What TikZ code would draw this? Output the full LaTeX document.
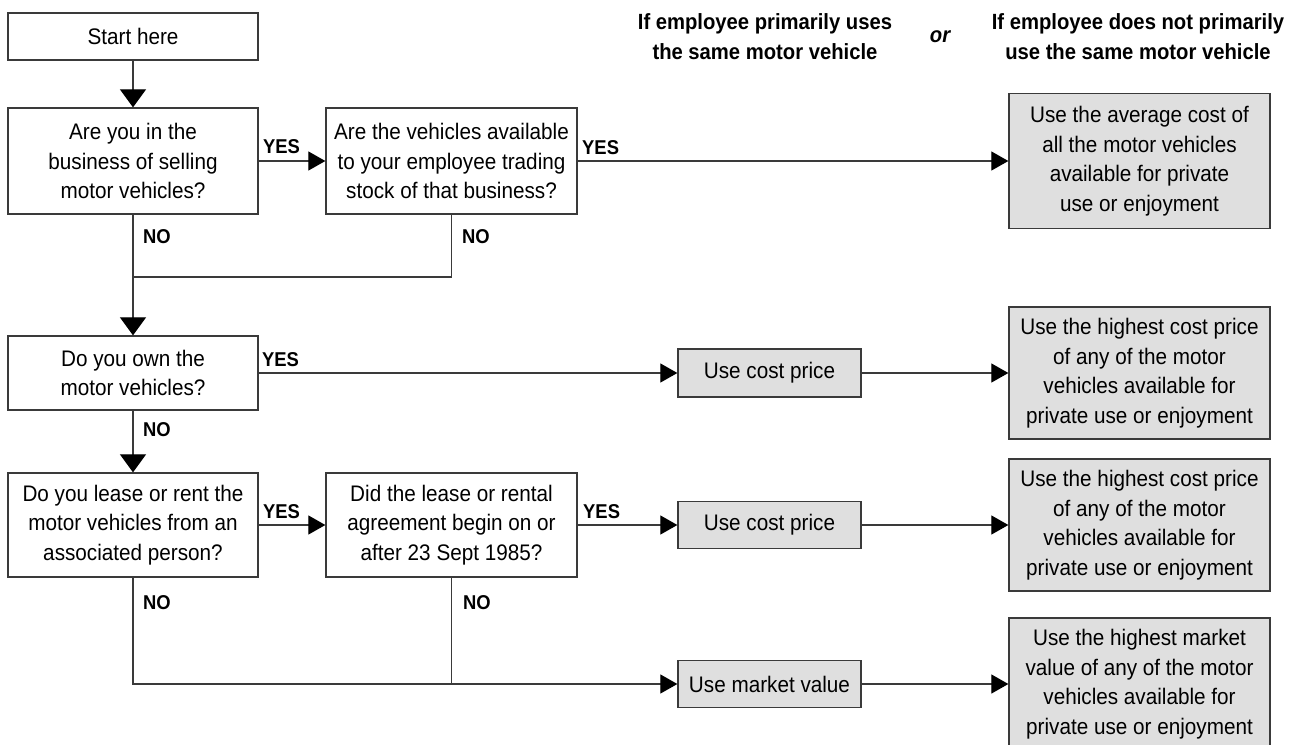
\documentclass[tikz,border=0pt]{standalone}
\usepackage{fontspec}
\setmainfont{Liberation Sans}[FakeStretch=0.92]
\usetikzlibrary{arrows.meta}
\definecolor{boxgrey}{HTML}{DFDFDF}
\definecolor{edge}{HTML}{3A3A3A}
\tikzset{every node/.style={inner sep=0pt, align=center},
  qbox/.style={draw=edge, line width=1.3pt, font=\fontsize{22.5}{29.5}\selectfont},
  abox/.style={qbox, fill=boxgrey},
  lbl/.style={font=\fontsize{20}{24}\selectfont\bfseries, anchor=west},
  head/.style={font=\fontsize{22}{30}\selectfont\bfseries},
  conn/.style={draw=edge, line width=1.1pt},
  harr/.style={conn, -{Triangle[length=17pt,width=19pt,black]}},
  varr/.style={conn, -{Triangle[length=18pt,width=26pt,black]}}}

\begin{document}
\begin{tikzpicture}[x=1pt,y=-1pt]
   \useasboundingbox (0,0) rectangle (1295,744);
   % headings
   \node[head] (h1) at (765,37) {If employee primarily uses\\the same motor vehicle};
   \node[head,font=\fontsize{22}{30}\selectfont\bfseries\itshape] (or) at (940,37) {or};
   \node[head] (h2) at (1138,37) {If employee does not primarily\\use the same motor vehicle};
   % questions
   \node[qbox,minimum width=250pt,minimum height=47pt]  (s)  at (133,36.5) {Start here};
   \node[qbox,minimum width=250pt,minimum height=106pt] (q1) at (133,161) {Are you in the\\business of selling\\motor vehicles?};
   \node[qbox,minimum width=251pt,minimum height=106pt] (q2) at (451.5,161) {Are the vehicles available\\to your employee trading\\stock of that business?};
   \node[qbox,minimum width=250pt,minimum height=74pt]  (q3) at (133,373) {Do you own the\\motor vehicles?};
   \node[qbox,minimum width=250pt,minimum height=104pt] (q4) at (133,525) {Do you lease or rent the\\motor vehicles from an\\associated person?};
   \node[qbox,minimum width=251pt,minimum height=104pt] (q5) at (451.5,525) {Did the lease or rental\\agreement begin on or\\after 23 Sept 1985?};
   % answers
   \node[abox,minimum width=183pt,minimum height=48pt] (c1) at (769.5,373) {Use cost price};
   \node[abox,minimum width=183pt,minimum height=47pt] (c2) at (769.5,525) {Use cost price};
   \node[abox,minimum width=183pt,minimum height=47pt] (m)  at (769.5,684) {Use market value};
   \node[abox,minimum width=261pt,minimum height=135pt] (r1) at (1139.5,161) {Use the average cost of\\all the motor vehicles\\available for private\\use or enjoyment};
   \node[abox,minimum width=261pt,minimum height=132pt] (r2) at (1139.5,373) {Use the highest cost price\\of any of the motor\\vehicles available for\\private use or enjoyment};
   \node[abox,minimum width=261pt,minimum height=132pt] (r3) at (1139.5,525) {Use the highest cost price\\of any of the motor\\vehicles available for\\private use or enjoyment};
   \node[abox,minimum width=261pt,minimum height=132pt] (r4) at (1139.5,684) {Use the highest market\\value of any of the motor\\vehicles available for\\private use or enjoyment};
   % connectors
   \coordinate (j1) at (133,277);
   \draw[varr] (s) -- (q1);
   \draw[harr] (q1) -- (q2);
   \draw[harr] (q2) -- (r1);
   \draw[varr] (q1) -- (q3);
   \draw[conn] (q2.south) |- (j1);
   \draw[harr] (q3) -- (c1);
   \draw[harr] (c1) -- (r2);
   \draw[varr] (q3) -- (q4);
   \draw[harr] (q4) -- (q5);
   \draw[harr] (q5) -- (c2);
   \draw[harr] (c2) -- (r3);
   \draw[harr] (q4.south) |- (m);
   \draw[conn] (q5.south) -- (q5 |- m);
   \draw[harr] (m) -- (r4);
   % labels
   \node[lbl] (y1) at (263,147) {YES};
   \node[lbl] (y2) at (582,148) {YES};
   \node[lbl] (n1) at (143,237) {NO};
   \node[lbl] (n2) at (462,237) {NO};
   \node[lbl] (y3) at (262,360) {YES};
   \node[lbl] (n3) at (143,430) {NO};
   \node[lbl] (y4) at (263,512) {YES};
   \node[lbl] (y5) at (583,512) {YES};
   \node[lbl] (n4) at (143,603) {NO};
   \node[lbl] (n5) at (463,603) {NO};
\end{tikzpicture}
\end{document}
